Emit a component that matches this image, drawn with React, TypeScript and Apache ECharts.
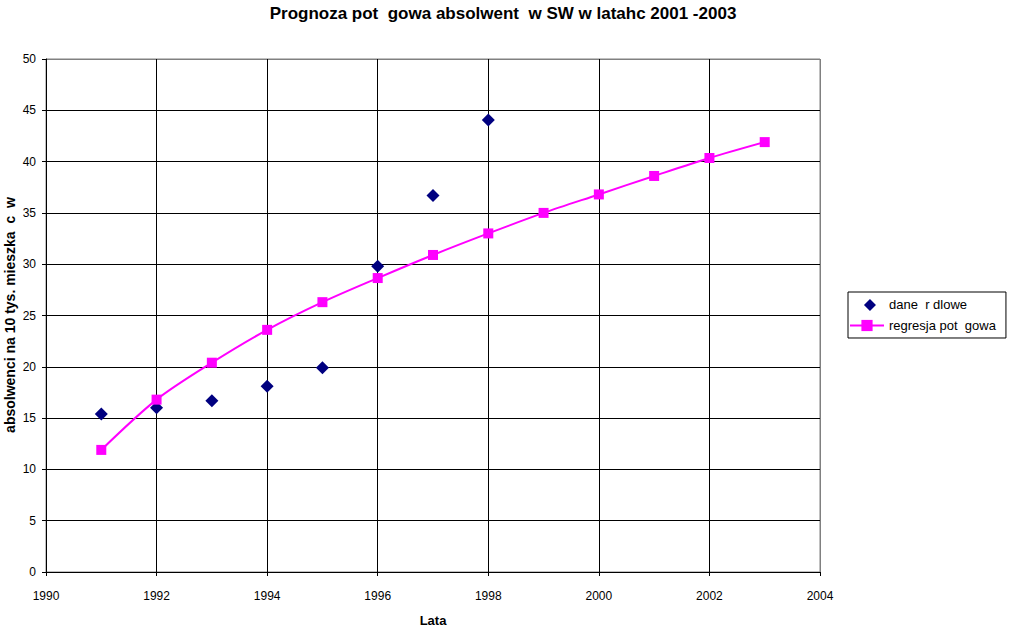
import React, { useEffect, useRef } from "react";
import * as echarts from "echarts";

const observedYears = [1991, 1992, 1993, 1994, 1995, 1996, 1997, 1998];
const observedValues = [15.4, 16.0, 16.7, 18.1, 19.9, 29.8, 36.7, 44.05];
const regressionYears = [1991, 1992, 1993, 1994, 1995, 1996, 1997, 1998, 1999, 2000, 2001, 2002, 2003];
const regressionValues = [11.9, 16.8, 20.4, 23.6, 26.3, 28.65, 30.9, 33.0, 35.0, 36.8, 38.6, 40.35, 41.9];
const yAxisTitle = "absolwenci na 10 tys. mieszka  c  w";

const FONT = "Liberation Sans, Arial, sans-serif";
const DIAMOND_ICON = "path://M0,0L0.01,0M34,14L34.01,14M20,1L26,7L20,13L14,7Z";

export default function App() {
  const ref = useRef<HTMLDivElement>(null);
  useEffect(() => {
    if (!ref.current) return;
    const chart = echarts.init(ref.current, null, { renderer: "svg" });
    const yColors = Array.from({ length: 11 }, (_, i) => (i === 10 ? "#808080" : "#000000"));
    const xColors = Array.from({ length: 8 }, (_, i) => (i === 7 ? "#808080" : "#000000"));
    chart.setOption({
      animation: false,
      backgroundColor: "#ffffff",
      title: {
        text: "Prognoza pot  gowa absolwent  w SW w latahc 2001 -2003",
        left: 498,
        textAlign: "center",
        top: 0,
        textStyle: { fontFamily: FONT, fontSize: 17, fontWeight: "bold", color: "#000" },
      },
      graphic: [
        {
          type: "text",
          x: 10,
          y: 315,
          rotation: Math.PI / 2,
          style: {
            text: yAxisTitle,
            fontFamily: FONT,
            fontSize: 14,
            fontWeight: "bold",
            fill: "#000",
            align: "center",
            verticalAlign: "middle",
          },
        },
      ],
      grid: {
        left: 46,
        top: 59,
        width: 774,
        height: 513,
        show: true,
        containLabel: false,
        outerBoundsMode: "none",
        borderColor: "#808080",
        borderWidth: 1,
        backgroundColor: "#ffffff",
      },
      legend: {
        orient: "vertical",
        left: 848,
        top: 292,
        itemGap: 7,
        itemWidth: 34,
        itemHeight: 14,
        padding: [6, 10, 6, 1],
        borderColor: "#000",
        borderWidth: 1,
        borderRadius: 0,
        backgroundColor: "#fff",
        textStyle: { fontFamily: FONT, fontSize: 13, color: "#000" },
        data: [
          { name: "dane  r dlowe", icon: DIAMOND_ICON },
          { name: "regresja pot  gowa" },
        ],
      },
      xAxis: {
        type: "value",
        min: 1990,
        max: 2004,
        interval: 2,
        name: "Lata",
        nameLocation: "middle",
        nameGap: 42,
        nameTextStyle: { fontFamily: FONT, fontSize: 13, fontWeight: "bold", color: "#000" },
        axisLine: { show: true, onZero: false, lineStyle: { color: "#000", width: 1 } },
        axisTick: { show: true, length: 4, inside: false, lineStyle: { color: "#000" } },
        axisLabel: {
          fontFamily: FONT,
          fontSize: 12,
          color: "#000",
          margin: 18,
          formatter: (v: number) => String(v),
        },
        splitLine: { show: true, lineStyle: { color: xColors, width: 1 } },
      },
      yAxis: {
        type: "value",
        min: 0,
        max: 50,
        interval: 5,
        axisLine: { show: true, lineStyle: { color: "#000", width: 1 } },
        axisTick: { show: true, length: 4, inside: false, lineStyle: { color: "#000" } },
        axisLabel: { fontFamily: FONT, fontSize: 12, color: "#000", margin: 10 },
        splitLine: { show: true, lineStyle: { color: yColors, width: 1 } },
      },
      series: [
        {
          name: "dane  r dlowe",
          type: "scatter",
          symbol: "diamond",
          symbolSize: 13,
          itemStyle: { color: "#000080", opacity: 1 },
          data: observedYears.map((y, i) => [y, observedValues[i]]),
          z: 3,
        },
        {
          name: "regresja pot  gowa",
          type: "line",
          smooth: 0.3,
          symbol: "rect",
          symbolSize: 10,
          showAllSymbol: true,
          lineStyle: { color: "#FF00FF", width: 2 },
          itemStyle: { color: "#FF00FF", opacity: 1 },
          data: regressionYears.map((y, i) => [y, regressionValues[i]]),
          z: 4,
        },
      ],
    });
    return () => chart.dispose();
  }, []);
  return <div ref={ref} style={{ width: 1010, height: 629, position: "absolute", left: 0, top: 0 }} />;
}
